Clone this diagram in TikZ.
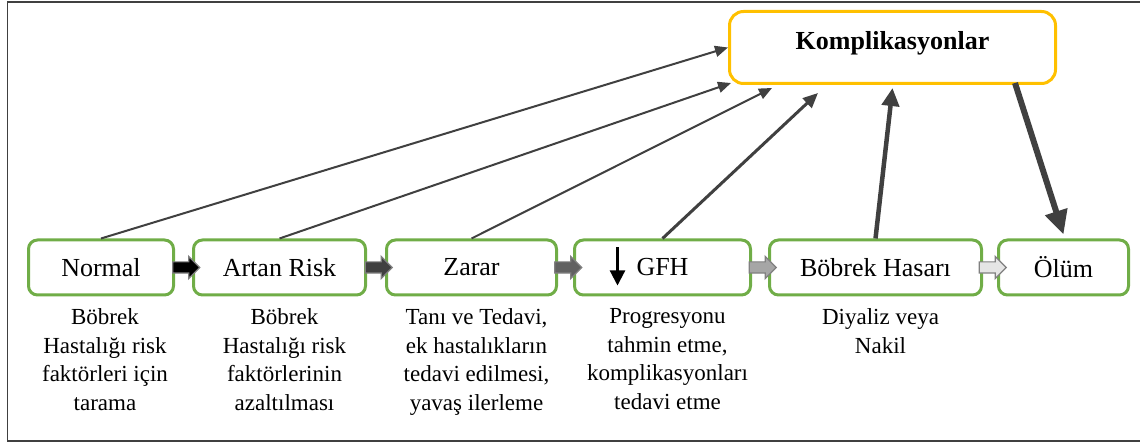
\documentclass[tikz,border=0pt]{standalone}
\usepackage{fontspec}
\setmainfont{Liberation Serif}
\usetikzlibrary{positioning,calc,arrows.meta,shapes.arrows}
\definecolor{stagegreen}{HTML}{70AD47}
\definecolor{kompgold}{HTML}{FFC000}
\definecolor{linkgray}{HTML}{404040}
\tikzset{
	stage/.style={draw=stagegreen, line width=3pt, rounded corners=9pt, minimum height=55pt, inner sep=2pt, font=\fontsize{26}{30}\selectfont},
	stagenote/.style={align=center, inner sep=0pt, font=\fontsize{23}{28.5}\selectfont},
	flowarrow/.style={single arrow, draw=black!50, line width=1.2pt, minimum height=27pt, text height=5pt, text depth=5pt, text width=0pt, single arrow head extend=5.5pt, inner sep=0pt},
	link/.style={draw=linkgray, line width=2pt, -{Triangle[length=13pt,width=11pt]}}
}

\begin{document}
\begin{tikzpicture}[x=1pt, y=-1pt]
			%%%%% START %%%%%
			\useasboundingbox (0,0) rectangle (1140,443);
			\draw[line width=1.5pt, color=linkgray] (7.5,2) rectangle (1142,441);
			
			\node[draw=kompgold, line width=3pt, rounded corners=14pt, minimum width=326pt, minimum height=72pt, text height=18pt, text depth=13pt, font=\fontsize{26}{30}\selectfont\bfseries] (kompl) at (892.5,47.5) {Komplikasyonlar};
			
			\node[stage, minimum width=145pt] (normal) at (101,267.5) {Normal};
			\node[stage, minimum width=172pt, right=17pt of normal] (artan) {Artan Risk};
			\node[stage, minimum width=170pt, right=18pt of artan] (zarar) {Zarar};
			\node[stage, minimum width=176pt, right=15pt of zarar] (gfh) {GFH};
			\node[stage, minimum width=212pt, right=16pt of gfh] (bobrek) {Böbrek Hasarı};
			\node[stage, minimum width=130pt, right=14pt of bobrek] (olum) {Ölüm};
			
			\draw[line width=2.2pt, -{Triangle[length=15pt,width=15pt]}] ([xshift=-45pt,yshift=20pt]gfh.center) -- ([xshift=-45pt,yshift=-18pt]gfh.center);
			
			\node[stagenote, below=12pt of normal, xshift=4pt] (normalnote) {Böbrek\\Hastalığı risk\\faktörleri için\\tarama};
			\node[stagenote, below=12pt of artan, xshift=5pt] (artannote) {Böbrek\\Hastalığı risk\\faktörlerinin\\azaltılması};
			\node[stagenote, below=12pt of zarar, xshift=5pt] (zararnote) {Tanı ve Tedavi,\\ek hastalıkların\\tedavi edilmesi,\\yavaş ilerleme};
			\node[stagenote, below=12pt of gfh, xshift=5pt] (gfhnote) {Progresyonu\\tahmin etme,\\komplikasyonları\\tedavi etme};
			\node[stagenote, below=12pt of bobrek, xshift=5pt] (bobreknote) {Diyaliz veya\\Nakil};
			
			\node[flowarrow, fill=black] (ar1) at ($(normal.east)!0.5!(artan.west)$) {};
			\node[flowarrow, fill=black!75] (ar2) at ($(artan.east)!0.5!(zarar.west)$) {};
			\node[flowarrow, fill=black!62] (ar3) at ($(zarar.east)!0.5!(gfh.west)$) {};
			\node[flowarrow, fill=black!35] (ar4) at ($(gfh.east)!0.5!(bobrek.west)$) {};
			\node[flowarrow, fill=black!10] (ar5) at ($(bobrek.east)!0.5!(olum.west)$) {};
			
			\draw[link] (normal.north) -- (kompl.west);
			\draw[link] (artan.north) -- ([xshift=3pt,yshift=2pt]kompl.south west);
			\draw[link] (zarar.north) -- ([xshift=44pt,yshift=-3pt]kompl.south west);
			\draw[link, line width=3pt, -{Triangle[length=15pt,width=13pt]}] (gfh.north) -- ([xshift=90pt,yshift=-8pt]kompl.south west);
			\draw[link, line width=4.5pt, -{Triangle[length=18pt,width=17pt]}] (bobrek.north) -- ([yshift=-3pt]kompl.south);
			\draw[link, line width=6pt, -{Triangle[length=24pt,width=22pt]}] ([xshift=-42pt,yshift=2pt]kompl.south east) -- ([yshift=4pt]olum.north);
			%%%%% END %%%%%
\end{tikzpicture}
\end{document}
